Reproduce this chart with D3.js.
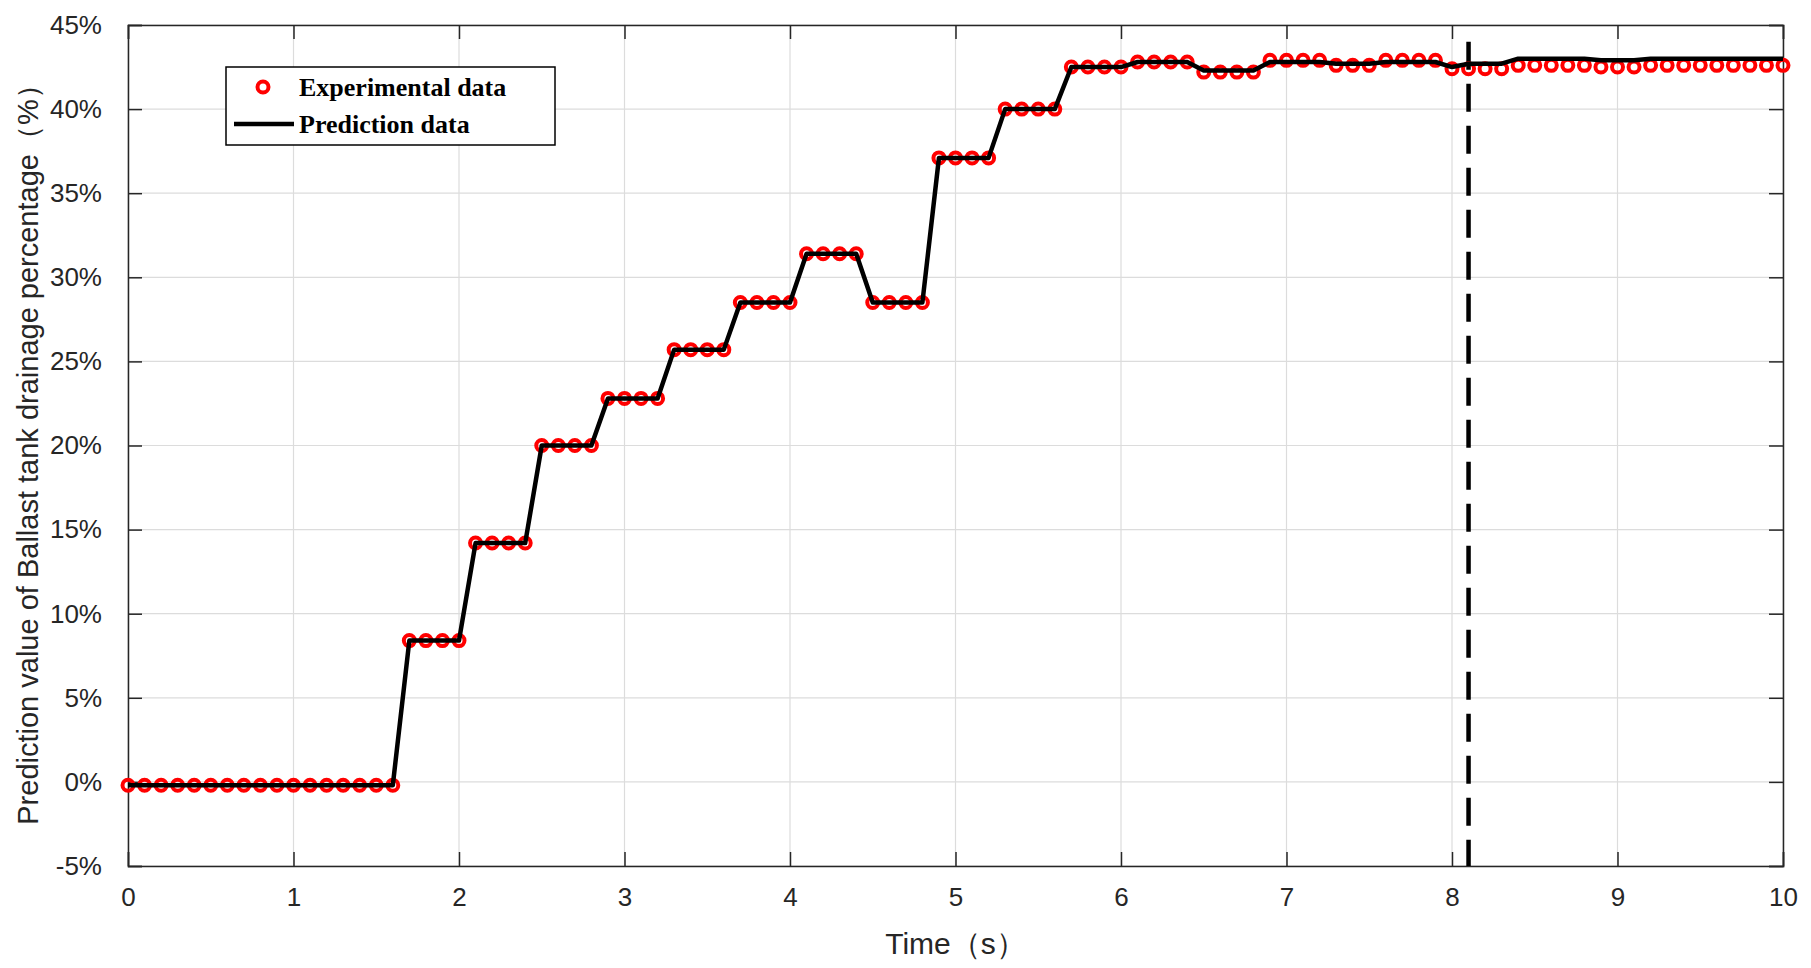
<!DOCTYPE html>
<html>
<head>
<meta charset="utf-8">
<script src="https://cdn.jsdelivr.net/npm/d3@7"></script>
<style>
body { margin: 0; background: #fff; }
text { font-family: Arial, "Liberation Sans", sans-serif; }
</style>
</head>
<body>
<div id="vis"></div>
<script>
// sample times, every 0.1 s
var times = d3.range(0, 101).map(function(i) { return i / 10; });

var experimental = [
  -0.2,-0.2,-0.2,-0.2,-0.2,-0.2,-0.2,-0.2,-0.2,-0.2,
  -0.2,-0.2,-0.2,-0.2,-0.2,-0.2,-0.2, 8.4, 8.4, 8.4,
   8.4,14.2,14.2,14.2,14.2,20.0,20.0,20.0,20.0,22.8,
  22.8,22.8,22.8,25.7,25.7,25.7,25.7,28.5,28.5,28.5,
  28.5,31.4,31.4,31.4,31.4,28.5,28.5,28.5,28.5,37.1,
  37.1,37.1,37.1,40.0,40.0,40.0,40.0,42.5,42.5,42.5,
  42.5,42.8,42.8,42.8,42.8,42.2,42.2,42.2,42.2,42.9,
  42.9,42.9,42.9,42.6,42.6,42.6,42.9,42.9,42.9,42.9,
  42.4,42.4,42.4,42.4,42.6,42.6,42.6,42.6,42.6,42.5,
  42.5,42.5,42.6,42.6,42.6,42.6,42.6,42.6,42.6,42.6,
  42.6
];

var prediction = [
  -0.2,-0.2,-0.2,-0.2,-0.2,-0.2,-0.2,-0.2,-0.2,-0.2,
  -0.2,-0.2,-0.2,-0.2,-0.2,-0.2,-0.2, 8.4, 8.4, 8.4,
   8.4,14.2,14.2,14.2,14.2,20.0,20.0,20.0,20.0,22.8,
  22.8,22.8,22.8,25.7,25.7,25.7,25.7,28.5,28.5,28.5,
  28.5,31.4,31.4,31.4,31.4,28.5,28.5,28.5,28.5,37.1,
  37.1,37.1,37.1,40.0,40.0,40.0,40.0,42.5,42.5,42.5,
  42.5,42.8,42.8,42.8,42.8,42.3,42.3,42.3,42.3,42.8,
  42.8,42.8,42.8,42.7,42.7,42.7,42.8,42.8,42.8,42.8,
  42.5,42.7,42.7,42.7,43.0,43.0,43.0,43.0,43.0,42.9,
  42.9,42.9,43.0,43.0,43.0,43.0,43.0,43.0,43.0,43.0,
  43.0
];

var xTicks = [0,1,2,3,4,5,6,7,8,9,10];
var yTicks = [-5,0,5,10,15,20,25,30,35,40,45];
var splitTime = 8.1;

var W = 1811, H = 968;
var m = { left: 128, right: 1783, top: 25, bottom: 866 };

var svg = d3.select("#vis").append("svg")
  .attr("width", W).attr("height", H);

var x = d3.scaleLinear().domain([0, 10]).range([m.left, m.right]);
var y = d3.scaleLinear().domain([-5, 45]).range([m.bottom, m.top]);

// grid
svg.append("g").selectAll("line").data(xTicks).join("line")
  .attr("x1", d => x(d)).attr("x2", d => x(d))
  .attr("y1", m.top).attr("y2", m.bottom)
  .attr("stroke", "#dcdcdc").attr("stroke-width", 1.2);
svg.append("g").selectAll("line").data(yTicks).join("line")
  .attr("x1", m.left).attr("x2", m.right)
  .attr("y1", d => y(d)).attr("y2", d => y(d))
  .attr("stroke", "#dcdcdc").attr("stroke-width", 1.2);

// axes with inward ticks
var tl = 14;
var axB = svg.append("g").attr("transform", "translate(0," + m.bottom + ")")
  .call(d3.axisBottom(x).tickValues(xTicks).tickSize(-tl).tickPadding(22).tickFormat(d3.format("d")));
var axT = svg.append("g").attr("transform", "translate(0," + m.top + ")")
  .call(d3.axisTop(x).tickValues(xTicks).tickSize(-tl).tickFormat(""));
var axL = svg.append("g").attr("transform", "translate(" + m.left + ",0)")
  .call(d3.axisLeft(y).tickValues(yTicks).tickSize(-tl).tickPadding(26).tickFormat(d => d + "%"));
var axR = svg.append("g").attr("transform", "translate(" + m.right + ",0)")
  .call(d3.axisRight(y).tickValues(yTicks).tickSize(-tl).tickFormat(""));

[axB, axT, axL, axR].forEach(function(a) {
  a.selectAll(".domain").attr("stroke", "#262626").attr("stroke-width", 1.5);
  a.selectAll(".tick line").attr("stroke", "#262626").attr("stroke-width", 1.5);
  a.selectAll("text").attr("fill", "#262626").style("font-size", "26px")
    .style("font-family", "Arial, 'Liberation Sans', sans-serif");
});

// dashed split line
svg.append("line")
  .attr("x1", x(splitTime)).attr("x2", x(splitTime))
  .attr("y1", y(44)).attr("y2", m.bottom)
  .attr("stroke", "#000").attr("stroke-width", 4.5)
  .attr("stroke-dasharray", "28,14");

// experimental markers
svg.append("g").selectAll("circle").data(times).join("circle")
  .attr("cx", d => x(d))
  .attr("cy", (d, i) => y(experimental[i]))
  .attr("r", 5.5)
  .attr("fill", "none")
  .attr("stroke", "#ff0000").attr("stroke-width", 4);

// prediction line
var line = d3.line().x(d => x(d)).y((d, i) => y(prediction[i]));
svg.append("path").datum(times)
  .attr("d", line)
  .attr("fill", "none").attr("stroke", "#000").attr("stroke-width", 4.5)
  .attr("stroke-linejoin", "round");

// axis titles
svg.append("text")
  .attr("x", (m.left + m.right) / 2).attr("y", 954)
  .attr("text-anchor", "middle").attr("fill", "#262626")
  .style("font-size", "30px")
  .text("Time（s）");
svg.append("text")
  .attr("transform", "translate(38," + ((m.top + m.bottom) / 2 + 2) + ") rotate(-90)")
  .attr("text-anchor", "middle").attr("fill", "#262626")
  .style("font-size", "29px")
  .text("Prediction value of Ballast tank drainage percentage（%）");

// legend
var lg = svg.append("g").attr("transform", "translate(226,67)");
lg.append("rect").attr("width", 329).attr("height", 78)
  .attr("fill", "#fff").attr("stroke", "#000").attr("stroke-width", 1.5);
lg.append("circle").attr("cx", 37).attr("cy", 20).attr("r", 5.5)
  .attr("fill", "none").attr("stroke", "#ff0000").attr("stroke-width", 4);
lg.append("line").attr("x1", 8).attr("x2", 68).attr("y1", 57).attr("y2", 57)
  .attr("stroke", "#000").attr("stroke-width", 4.5);
lg.selectAll("text.lab").data(["Experimental data", "Prediction data"]).join("text")
  .attr("class", "lab")
  .attr("x", 73).attr("y", (d, i) => 29 + i * 37)
  .style("font-family", "'Liberation Serif', 'Times New Roman', serif")
  .style("font-weight", "bold").style("font-size", "26px")
  .text(d => d);
</script>
</body>
</html>
